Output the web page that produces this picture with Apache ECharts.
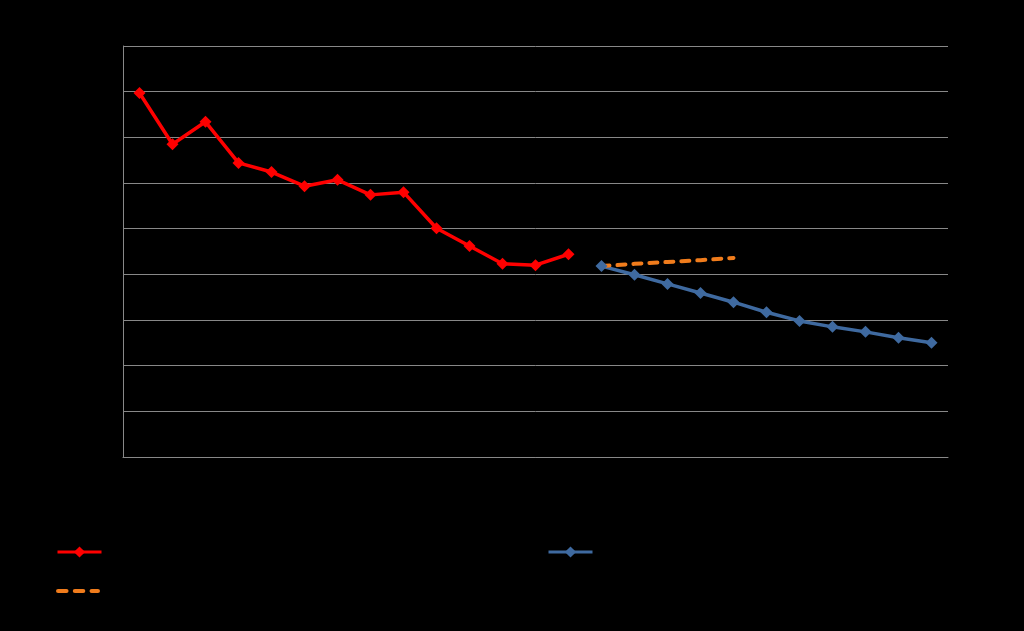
<!DOCTYPE html>
<html><head><meta charset="utf-8">
<script src="https://cdn.jsdelivr.net/npm/echarts@6/dist/echarts.min.js"></script>
<style>html,body{margin:0;padding:0;background:#000}#c{width:1024px;height:631px}</style>
</head><body><div id="c"></div>
<script>
const categories = ['1','2','3','4','5','6','7','8','9','10','11','12','13','14','15','16','17','18','19','20','21','22','23','24','25'];
const actualValues = [7.97,6.85,7.34,6.44,6.24,5.93,6.07,5.74,5.80,5.01,4.62,4.23,4.20,4.44,null,null,null,null,null,null,null,null,null,null,null];
const projectionValues = [null,null,null,null,null,null,null,null,null,null,null,null,null,null,4.18,3.99,3.79,3.59,3.39,3.17,2.98,2.85,2.74,2.61,2.50];
const trendValues = [null,null,null,null,null,null,null,null,null,null,null,null,null,null,4.18,4.23,4.27,4.31,4.36,null,null,null,null,null,null];
const seriesNames = ['Actual','Projection','Trend'];

const chart = echarts.init(document.getElementById('c'));
const legendCommon = {itemWidth:44,itemHeight:14,padding:0,textStyle:{color:'#000'},lineStyle:{width:3}};
chart.setOption({
  backgroundColor:'#000',
  animation:false,
  grid:{left:123,right:76,top:46,bottom:174},
  legend:[
    Object.assign({data:[seriesNames[0]],left:56,top:546},legendCommon),
    Object.assign({data:[seriesNames[1]],left:547,top:546},legendCommon),
    Object.assign({data:[{name:seriesNames[2],icon:'path://M2,0h8a2,2 0 0 1 0,4h-8a2,2 0 0 1 0,-4z M18,0h8a2,2 0 0 1 0,4h-8a2,2 0 0 1 0,-4z M34,0h6a2,2 0 0 1 0,4h-6a2,2 0 0 1 0,-4z'}],
      left:56,top:585,itemWidth:44,itemHeight:6,padding:0,textStyle:{color:'#000'}})
  ],
  xAxis:{type:'category',data:categories,boundaryGap:true,
    axisLine:{lineStyle:{color:'#888',width:1}},axisTick:{show:false},axisLabel:{show:false}},
  yAxis:{type:'value',min:0,max:9,interval:1,
    axisLine:{show:true,lineStyle:{color:'#888',width:1}},axisTick:{show:false},axisLabel:{show:false},
    splitLine:{lineStyle:{color:'#888',width:1}}},
  series:[
    {name:seriesNames[0],type:'line',data:actualValues,color:'#ff0000',symbol:'diamond',symbolSize:12,
      lineStyle:{width:3.5},itemStyle:{color:'#ff0000'}},
    {name:seriesNames[1],type:'line',data:projectionValues,color:'#3f6aa0',symbol:'diamond',symbolSize:12,
      lineStyle:{width:3.5},itemStyle:{color:'#3f6aa0'}},
    {name:seriesNames[2],type:'line',data:trendValues,color:'#f07c1c',symbol:'none',showSymbol:false,
      lineStyle:{width:4,type:[8,8],cap:'round'},itemStyle:{color:'#f07c1c'}}
  ]
});
</script></body></html>
